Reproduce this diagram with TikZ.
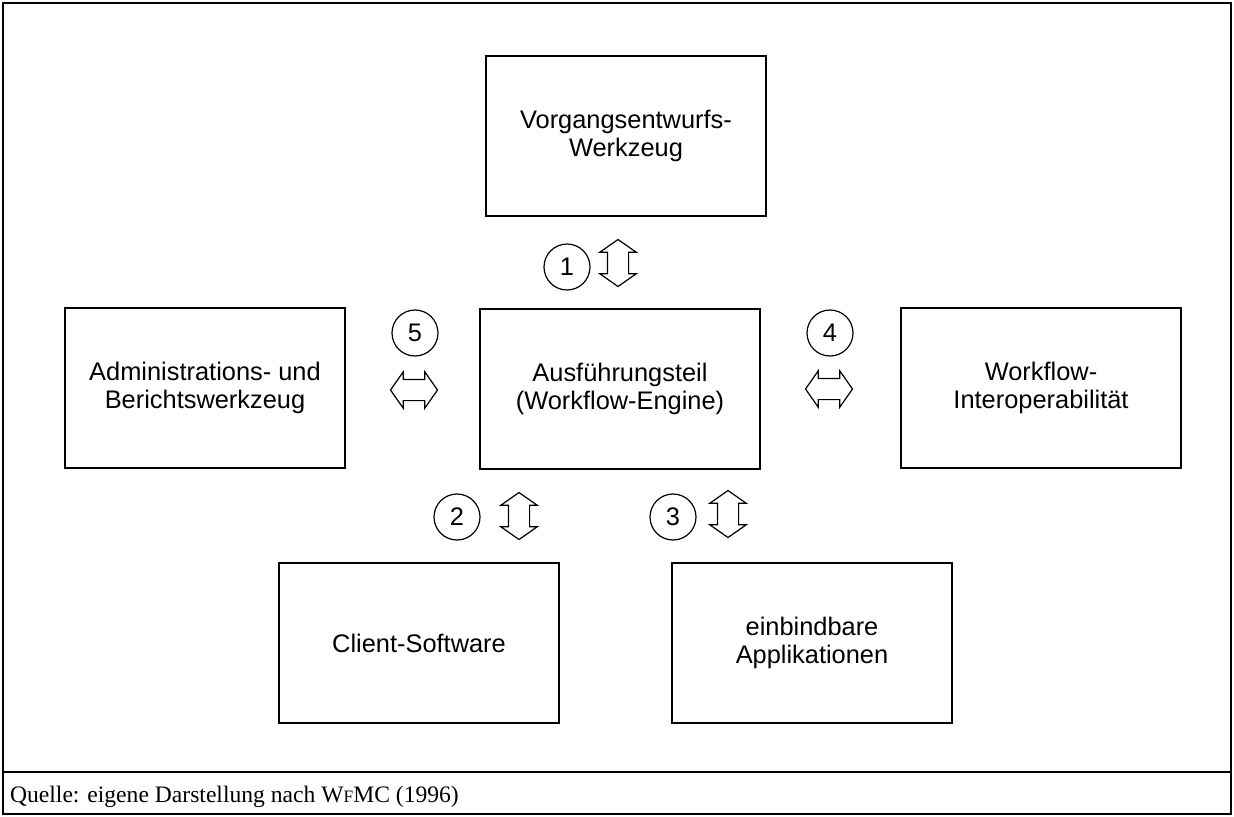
\documentclass[tikz,border=0pt]{standalone}
\usepackage{fontspec}
\setmainfont{Liberation Serif}
\newfontfamily\arialfont{Liberation Sans}
\usetikzlibrary{shapes.arrows}

\begin{document}
\begin{tikzpicture}[x=0.5pt,y=-0.5pt]
\tikzstyle{block} = [rectangle, draw, line width=0.8pt, minimum width=140pt,
minimum height=80pt, align=center, font=\arialfont\fontsize{12.7}{13.8}\selectfont]
\tikzstyle{nr} = [circle, draw, line width=0.6pt, minimum size=23pt, inner sep=0pt,
font=\arialfont\fontsize{12.7}{13.8}\selectfont]
\tikzstyle{dpfeil} = [double arrow, draw, line width=0.6pt, inner sep=5pt,
minimum height=23.5pt, double arrow head extend=3.75pt, double arrow tip angle=110]
\tikzstyle{vpfeil} = [dpfeil, rotate=90]

\useasboundingbox (0,0) rectangle (1234,816);
\draw [line width=0.6pt] (3,3) rectangle (1231,814);
\draw [line width=0.6pt] (3,772) -- (1231,772);

% row 1
\node [block] (entwurf) at (626,136) {Vorgangsentwurfs-\\Werkzeug};
\node [nr] (n1) at (567,267) {1};
\node [vpfeil] (p1) at (618,263) {};
% row 2
\node [block] (admin) at (205,388) {Administrations- und\\Berichtswerkzeug};
\node [block] (engine) at (620,389) {Ausf\"uhrungsteil\\(Workflow-Engine)};
\node [block] (interop) at (1041,388) {Workflow-\\Interoperabilit\"at};
\node [nr] (n5) at (415,333) {5};
\node [dpfeil] (p5) at (414,390) {};
\node [nr] (n4) at (830,333) {4};
\node [dpfeil] (p4) at (829,389) {};
% row 3
\node [nr] (n2) at (457,517) {2};
\node [vpfeil] (p2) at (519,516) {};
\node [nr] (n3) at (673,517) {3};
\node [vpfeil] (p3) at (728,514) {};
\node [block] (client) at (419,643) {Client-Software};
\node [block] (appl) at (812,643) {einbindbare\\Applikationen};

% caption
\node [anchor=west, font=\fontsize{11.8}{13}\selectfont] (quelle) at (3,797)
{Quelle: eigene Darstellung nach W{\fontsize{8.7}{10}\selectfont F}MC (1996)};

\end{tikzpicture}
\end{document}
